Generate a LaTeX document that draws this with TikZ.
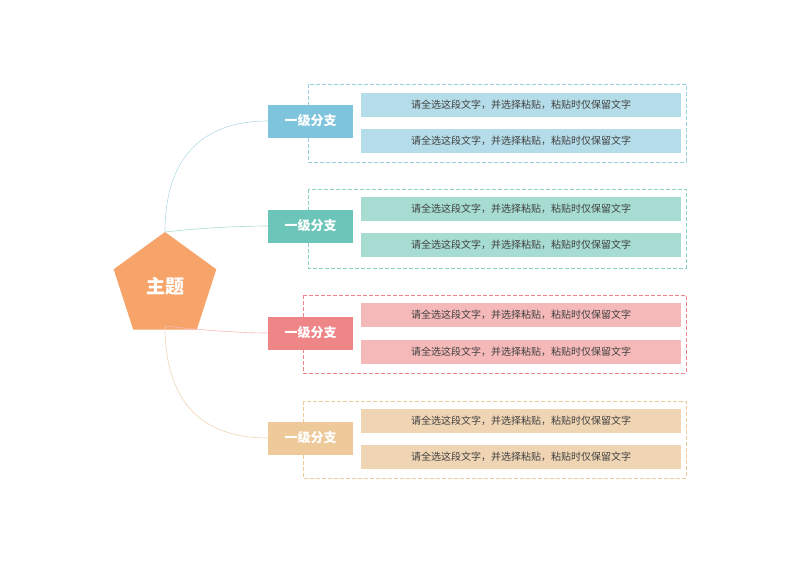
\documentclass[tikz,border=0pt]{standalone}
\usepackage{fontspec}
\setmainfont{Noto Sans CJK SC}
\usetikzlibrary{shapes.geometric}
\definecolor{topicc}{HTML}{F6A469}
\definecolor{blueb}{HTML}{7EC4DC}\definecolor{bluel}{HTML}{B5DDE9}
\definecolor{greenb}{HTML}{6CC5B9}\definecolor{greenl}{HTML}{A6DCD2}
\definecolor{redb}{HTML}{EE8587}\definecolor{redl}{HTML}{F6B9B9}
\definecolor{orangeb}{HTML}{EEC99A}\definecolor{orangel}{HTML}{F0D5B4}
\tikzset{
  branch/.style={fill=#1, text=white, font=\bfseries\fontsize{13}{15}\selectfont, minimum width=85pt, minimum height=33pt, inner sep=0pt},
  leaf/.style={fill=#1, text=black!75, font=\fontsize{10}{12}\selectfont, minimum width=320pt, minimum height=24pt, inner sep=0pt},
  frame/.style={draw=#1, dash pattern=on 4pt off 2pt, line width=0.8pt},
  link/.style={draw=#1, line width=0.6pt}
}
\begin{document}
\begin{tikzpicture}[x=1pt,y=-1pt]
\useasboundingbox (0,0) rectangle (800,566);

\node[regular polygon, regular polygon sides=5, minimum size=108pt, fill=topicc, text=white, font=\bfseries\fontsize{19}{22}\selectfont, inner sep=0pt] (topic) at (165,286) {主题};
\coordinate (top) at (165,232);
\coordinate (bot) at (165,326);

% dashed frames
\draw[frame=blueb!80] (308,84) rectangle (686,162);
\draw[frame=greenb!80] (308,189) rectangle (686,268);
\draw[frame=redb] (303,295) rectangle (686,373);
\draw[frame=orangeb] (303,401) rectangle (686,478);

% branches
\node[branch=blueb] (b1) at (310.5,121) {一级分支};
\node[branch=greenb] (b2) at (310.5,226) {一级分支};
\node[branch=redb] (b3) at (310.5,333) {一级分支};
\node[branch=orangeb] (b4) at (310.5,438) {一级分支};

% leaves
\node[leaf=bluel] (l1a) at (521,104.5) {请全选这段文字，并选择粘贴，粘贴时仅保留文字};
\node[leaf=bluel] (l1b) at (521,140.5) {请全选这段文字，并选择粘贴，粘贴时仅保留文字};
\node[leaf=greenl] (l2a) at (521,209) {请全选这段文字，并选择粘贴，粘贴时仅保留文字};
\node[leaf=greenl] (l2b) at (521,245) {请全选这段文字，并选择粘贴，粘贴时仅保留文字};
\node[leaf=redl] (l3a) at (521,315) {请全选这段文字，并选择粘贴，粘贴时仅保留文字};
\node[leaf=redl] (l3b) at (521,352) {请全选这段文字，并选择粘贴，粘贴时仅保留文字};
\node[leaf=orangel] (l4a) at (521,421) {请全选这段文字，并选择粘贴，粘贴时仅保留文字};
\node[leaf=orangel] (l4b) at (521,457) {请全选这段文字，并选择粘贴，粘贴时仅保留文字};

% links
\draw[link=bluel] (top) .. controls (165,160) and (200,121) .. (b1.west);
\draw[link=greenl] (top) .. controls (200,228) and (240,226) .. (b2.west);
\draw[link=redl] (bot) .. controls (200,330) and (240,333) .. (b3.west);
\draw[link=orangel] (bot) .. controls (165,400) and (200,438) .. (b4.west);
\end{tikzpicture}
\end{document}
